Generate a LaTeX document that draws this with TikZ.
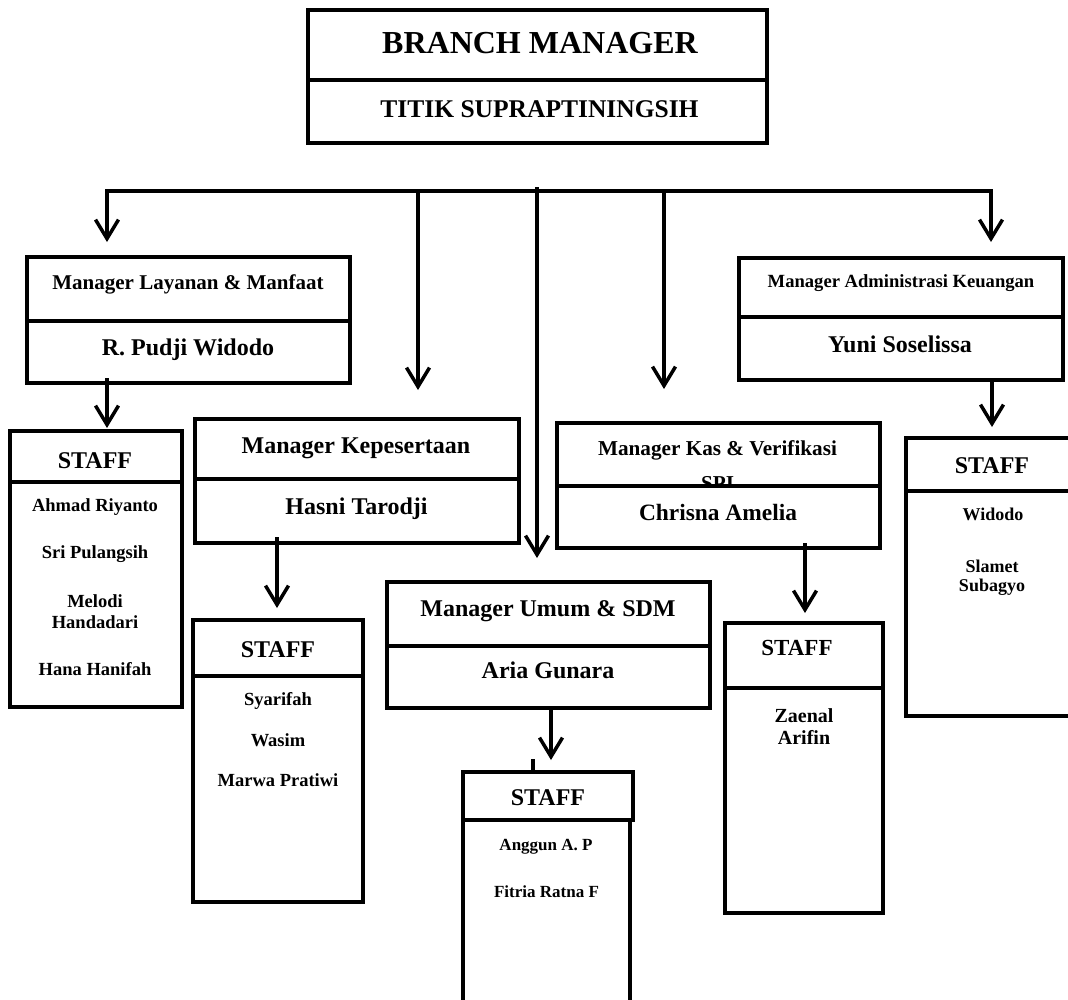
\documentclass[tikz,border=0pt]{standalone}
\usepackage{fontspec}
\setmainfont{Liberation Serif}
\usetikzlibrary{arrows.meta,calc}
\begin{document}
\begin{tikzpicture}[x=1pt,y=-1pt,
  part/.style={draw, line width=3.5pt, fill=white, inner sep=0pt, outer sep=0pt, anchor=north west},
  txt/.style={anchor=base, inner sep=0pt, font=\bfseries\fontsize{#1}{#1}\selectfont},
  ln/.style={line width=3.5pt},
  arr/.style={line width=3.5pt, -{Straight Barb[length=19pt,width=23pt]}},
  arrb/.style={line width=3.5pt, {Straight Barb[length=19pt,width=23pt]}-{Straight Barb[length=19pt,width=23pt]}}]
\useasboundingbox (0,0) rectangle (1068,999);
\fill[white] (0,0) rectangle (1068,999);

% Branch manager
\node[part, minimum width=459pt, minimum height=70pt] (bmt) at (308,10) {};
\node[part, minimum width=459pt, minimum height=63pt] (bmb) at (308,80) {};
\node[txt=32] (tbm) at (540,53) {BRANCH MANAGER};
\node[txt=25.5] (tts) at (539.5,117) {TITIK SUPRAPTININGSIH};

% Layanan
\node[part, minimum width=323pt, minimum height=64pt] (layt) at (27,257) {};
\node[part, minimum width=323pt, minimum height=62pt] (layb) at (27,321) {};
\node[txt=21] (tlay) at (188,289) {Manager Layanan \& Manfaat};
\node[txt=24] (tpud) at (188,355) {R. Pudji Widodo};

% Administrasi
\node[part, minimum width=324pt, minimum height=59pt] (admt) at (739,258) {};
\node[part, minimum width=324pt, minimum height=63pt] (admb) at (739,317) {};
\node[txt=18.6] (tadm) at (901,287) {Manager Administrasi Keuangan};
\node[txt=24] (tyun) at (900,352) {Yuni Soselissa};

% Kepesertaan
\node[part, minimum width=324pt, minimum height=60pt] (kept) at (195,419) {};
\node[part, minimum width=324pt, minimum height=64pt] (kepb) at (195,479) {};
\node[txt=24] (tkep) at (356,453) {Manager Kepesertaan};
\node[txt=24] (thas) at (356.5,514) {Hasni Tarodji};

% Kas
\node[part, minimum width=323pt, minimum height=63pt] (kast) at (557,423) {};
\node[txt=21.2] (tkas) at (717.5,455) {Manager Kas \& Verifikasi};
\node[txt=21.2] (tspi) at (717.5,490) {SPI};
\node[part, minimum width=323pt, minimum height=62pt] (kasb) at (557,486) {};
\node[txt=23.4] (tchr) at (718,520) {Chrisna Amelia};

% Umum
\node[part, minimum width=323pt, minimum height=64pt] (umt) at (387,582) {};
\node[part, minimum width=323pt, minimum height=62pt] (umb) at (387,646) {};
\node[txt=24] (tum) at (548,616) {Manager Umum \& SDM};
\node[txt=24] (taria) at (548,678) {Aria Gunara};

% Staff 1
\node[part, minimum width=172pt, minimum height=51pt] (s1t) at (10,431) {};
\node[part, minimum width=172pt, minimum height=225pt] (s1b) at (10,482) {};
\node[txt=24] (ts1) at (95,468) {STAFF};
\node[txt=18.5] (n11) at (95,511) {Ahmad Riyanto};
\node[txt=18.5] (n12) at (95,558) {Sri Pulangsih};
\node[txt=18.5] (n13) at (95,607) {Melodi};
\node[txt=18.5] (n14) at (95,628) {Handadari};
\node[txt=18.5] (n15) at (95,675) {Hana Hanifah};

% Staff 2
\node[part, minimum width=170pt, minimum height=56pt] (s2t) at (193,620) {};
\node[part, minimum width=170pt, minimum height=226pt] (s2b) at (193,676) {};
\node[txt=24] (ts2) at (278,657) {STAFF};
\node[txt=18.5] (n21) at (278,705) {Syarifah};
\node[txt=18.5] (n22) at (278,746) {Wasim};
\node[txt=18.5] (n23) at (278,786) {Marwa Pratiwi};

% Staff 3
\node[part, minimum width=170pt, minimum height=48pt] (s3t) at (463,772) {};
\node[part, minimum width=167pt, minimum height=240pt] (s3b) at (463,820) {};
\node[txt=24] (ts3) at (548,805) {STAFF};
\node[txt=17] (n31) at (546,850) {Anggun A. P};
\node[txt=17] (n32) at (546.5,897) {Fitria Ratna F};

% Staff 4
\node[part, minimum width=158pt, minimum height=65pt] (s4t) at (725,623) {};
\node[part, minimum width=158pt, minimum height=225pt] (s4b) at (725,688) {};
\node[txt=23] (ts4) at (797,655) {STAFF};
\node[txt=20] (n41) at (804,722) {Zaenal};
\node[txt=20] (n42) at (804,744) {Arifin};

% Staff 5
\node[part, minimum width=170pt, minimum height=53pt] (s5t) at (906,438) {};
\node[part, minimum width=170pt, minimum height=225pt] (s5b) at (906,491) {};
\node[txt=24] (ts5) at (992,473) {STAFF};
\node[txt=18] (n51) at (993,520) {Widodo};
\node[txt=18] (n52) at (992,572) {Slamet};
\node[txt=18] (n53) at (992,591) {Subagyo};

% connectors
\coordinate (hl) at (107,191);
\coordinate (hr) at (991,191);
\coordinate (h2) at (418,191);
\coordinate (hc) at (537,187);
\coordinate (h4) at (664,191);
\coordinate (xk) at (277,0);
\coordinate (xu) at (551,0);
\coordinate (xt) at (533,0);
\coordinate (xs) at (805,0);
\coordinate (xa) at (992,0);

\draw[arrb, shorten <=15pt, shorten >=16pt] (hl |- layt.north) -- (hl) -- (hr) -- (hr |- admt.north);
\draw[arr, shorten >=29pt] (h2) -- (h2 |- kept.north);
\draw[arr, shorten >=34pt] (h4) -- (h4 |- kast.north);
\draw[arr, shorten >=24pt] (hc) -- (hc |- umt.north);

\draw[arr, shorten <=-5pt, shorten >=3pt] (layb.south -| hl) -- (s1t.north -| hl);
\draw[arr, shorten <=-6pt, shorten >=12pt] (kepb.south -| xk) -- (s2t.north -| xk);
\draw[arr, shorten >=12pt] (umb.south -| xu) -- (s3t.north -| xu);
\draw[ln] (s3t.north -| xt) -- ++(0,-13);
\draw[arr, shorten <=-5pt, shorten >=10pt] (kasb.south -| xs) -- (s4t.north -| xs);
\draw[arr, shorten <=-2pt, shorten >=11pt] (admb.south -| xa) -- (s5t.north -| xa);
\end{tikzpicture}
\end{document}
